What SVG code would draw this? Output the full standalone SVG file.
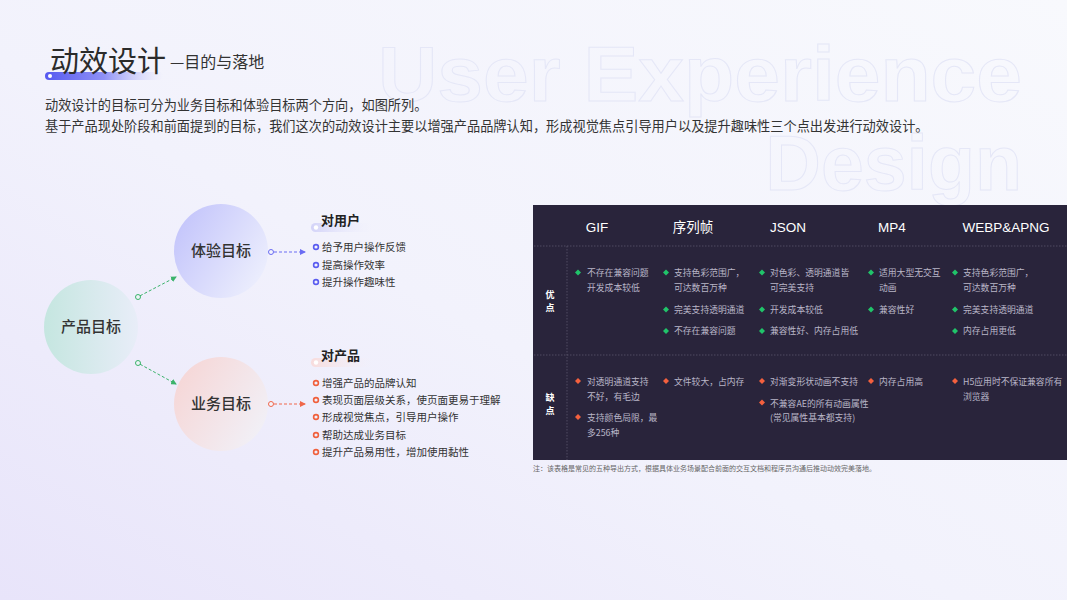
<svg xmlns="http://www.w3.org/2000/svg" width="1067" height="600" viewBox="0 0 1067 600">
<defs>
<linearGradient id="bg" x1="0" y1="1" x2="1" y2="0">
<stop offset="0" stop-color="#e8e4fa"/>
<stop offset="0.45" stop-color="#f2f2fc"/>
<stop offset="1" stop-color="#f8f9fd"/>
</linearGradient>
<linearGradient id="bar" x1="0" y1="0" x2="1" y2="0">
<stop offset="0" stop-color="#5659f0"/>
<stop offset="0.5" stop-color="#8f91f6"/>
<stop offset="1" stop-color="#c9cafb" stop-opacity="0"/>
</linearGradient>
<linearGradient id="pillBlue" x1="0" y1="0" x2="1" y2="0">
<stop offset="0" stop-color="#d3d3f8"/>
<stop offset="1" stop-color="#eeeefc" stop-opacity="0"/>
</linearGradient>
<linearGradient id="pillRed" x1="0" y1="0" x2="1" y2="0">
<stop offset="0" stop-color="#f8dcdc"/>
<stop offset="1" stop-color="#f6eef4" stop-opacity="0"/>
</linearGradient>
<linearGradient id="gTeal" x1="0" y1="0" x2="1" y2="0">
<stop offset="0" stop-color="#c5e6e0"/>
<stop offset="1" stop-color="#e8edf8"/>
</linearGradient>
<linearGradient id="gBlue" x1="0" y1="0.2" x2="1" y2="0.8">
<stop offset="0" stop-color="#c3c4fb"/>
<stop offset="1" stop-color="#eef0fd"/>
</linearGradient>
<linearGradient id="gRed" x1="0" y1="0.2" x2="1" y2="0.8">
<stop offset="0" stop-color="#f6d6d6"/>
<stop offset="1" stop-color="#f1f1f8"/>
</linearGradient>
<marker id="arrG" viewBox="0 0 6 6" refX="5" refY="3" markerWidth="6" markerHeight="6" markerUnits="userSpaceOnUse" orient="auto">
<path d="M0,0 L6,3 L0,6 z" fill="#3bb36b"/>
</marker>
<marker id="arrB" viewBox="0 0 6 6" refX="5" refY="3" markerWidth="6" markerHeight="6" markerUnits="userSpaceOnUse" orient="auto">
<path d="M0,0 L6,3 L0,6 z" fill="#6a6cf3"/>
</marker>
<marker id="arrR" viewBox="0 0 6 6" refX="5" refY="3" markerWidth="6" markerHeight="6" markerUnits="userSpaceOnUse" orient="auto">
<path d="M0,0 L6,3 L0,6 z" fill="#f0674a"/>
</marker>
</defs>
<style>
.cn{font-family:"Noto Sans CJK SC","Noto Sans",sans-serif}
.lat{font-family:"Liberation Sans","Noto Sans CJK SC",sans-serif}
.wm{font-family:"Liberation Sans",sans-serif;font-weight:bold;fill:none;stroke:#e5e7f7;stroke-width:1}
.para{font-size:13.2px;fill:#333}
.node{font-size:15px;font-weight:500;fill:#333;text-anchor:middle}
.head{font-size:13px;font-weight:bold;fill:#222}
.item{font-size:10.5px;fill:#333}
.th{font-size:13.5px;fill:#fff;text-anchor:middle}
.td{font-size:8.8px;fill:#b9b6c8}
.lab{font-size:9px;font-weight:bold;fill:#fff;text-anchor:middle}
.dg{fill:#20c46a}
.dr{fill:#f4603e}
</style>
<rect width="1067" height="600" fill="url(#bg)"/>

<!-- watermark -->
<text class="wm" x="378" y="101" font-size="77" textLength="644" lengthAdjust="spacingAndGlyphs">User Experience</text>
<text class="wm" x="1022" y="190" font-size="77" text-anchor="end">Design</text>

<!-- title -->
<rect x="45" y="72" width="118" height="8" rx="4" fill="url(#bar)"/>
<circle cx="50" cy="76" r="2" fill="#fff"/>
<text class="cn" x="50" y="72" font-size="29" fill="#2b2b2b">动效设计</text>
<text class="cn" x="170" y="68" font-size="16" fill="#333">—目的与落地</text>

<text class="cn para" x="45" y="110">动效设计的目标可分为业务目标和体验目标两个方向，如图所列。</text>
<text class="cn para" x="45" y="131">基于产品现处阶段和前面提到的目标，我们这次的动效设计主要以增强产品品牌认知，形成视觉焦点引导用户以及提升趣味性三个点出发进行动效设计。</text>

<!-- nodes -->
<g id="node-product">
<circle cx="91" cy="327" r="47" fill="url(#gTeal)"/>
<text class="cn node" x="91" y="332">产品目标</text>
</g>
<g id="node-experience">
<circle cx="221" cy="251" r="47" fill="url(#gBlue)"/>
<text class="cn node" x="221" y="256">体验目标</text>
</g>
<g id="node-business">
<circle cx="221" cy="404" r="47" fill="url(#gRed)"/>
<text class="cn node" x="221" y="409">业务目标</text>
</g>

<g id="connectors" fill="none" stroke-width="1" stroke-dasharray="3,2">
<circle cx="138" cy="297" r="2.5" stroke="#3bb36b" stroke-dasharray="none" fill="#eef3f8"/>
<line x1="140" y1="295.8" x2="176" y2="277" stroke="#3bb36b" marker-end="url(#arrG)"/>
<circle cx="138" cy="363" r="2.5" stroke="#3bb36b" stroke-dasharray="none" fill="#eef3f8"/>
<line x1="140" y1="364.2" x2="176" y2="384" stroke="#3bb36b" marker-end="url(#arrG)"/>
<circle cx="271" cy="252" r="2.5" stroke="#6a6cf3" stroke-dasharray="none" fill="#f4f5fd"/>
<line x1="274" y1="252" x2="305" y2="252" stroke="#6a6cf3" marker-end="url(#arrB)"/>
<circle cx="271" cy="404" r="2.5" stroke="#f0674a" stroke-dasharray="none" fill="#f4f5fd"/>
<line x1="274" y1="404" x2="305" y2="404" stroke="#f0674a" marker-end="url(#arrR)"/>
</g>

<!-- user list -->
<g id="list-user">
<rect x="311" y="223" width="62" height="9" rx="4.5" fill="url(#pillBlue)"/>
<circle cx="316" cy="227.5" r="2.2" fill="#fff"/>
<text class="cn head" x="321" y="225">对用户</text>
<g fill="none" stroke="#5a5cf0" stroke-width="1.6">
<circle cx="316" cy="247" r="2.4"/>
<circle cx="316" cy="265" r="2.4"/>
<circle cx="316" cy="282" r="2.4"/>
</g>
<text class="cn item" x="322" y="251">给予用户操作反馈</text>
<text class="cn item" x="322" y="269">提高操作效率</text>
<text class="cn item" x="322" y="286">提升操作趣味性</text>
</g>

<!-- product list -->
<g id="list-product">
<rect x="311" y="358" width="62" height="9" rx="4.5" fill="url(#pillRed)"/>
<circle cx="316" cy="362.5" r="2.2" fill="#fff"/>
<text class="cn head" x="321" y="360">对产品</text>
<g fill="none" stroke="#f0603c" stroke-width="1.6">
<circle cx="316" cy="383" r="2.4"/>
<circle cx="316" cy="400" r="2.4"/>
<circle cx="316" cy="417" r="2.4"/>
<circle cx="316" cy="435" r="2.4"/>
<circle cx="316" cy="452" r="2.4"/>
</g>
<text class="cn item" x="322" y="387">增强产品的品牌认知</text>
<text class="cn item" x="322" y="404">表现页面层级关系，使页面更易于理解</text>
<text class="cn item" x="322" y="421">形成视觉焦点，引导用户操作</text>
<text class="cn item" x="322" y="439">帮助达成业务目标</text>
<text class="cn item" x="322" y="456">提升产品易用性，增加使用黏性</text>
</g>

<!-- table -->
<g id="table">
<rect x="533" y="205" width="534" height="255" fill="#29243b"/>
<line x1="534" y1="246" x2="1067" y2="246" stroke="#5a566c" stroke-width="0.8" stroke-dasharray="1.5,1.5"/>
<line x1="534" y1="355" x2="1067" y2="355" stroke="#5a566c" stroke-width="0.8" stroke-dasharray="1.5,1.5"/>
<line x1="567" y1="246" x2="567" y2="460" stroke="#5a566c" stroke-width="0.8" stroke-dasharray="1.5,1.5"/>
<text class="lat th" x="597" y="232">GIF</text>
<text class="cn th" x="693" y="232">序列帧</text>
<text class="lat th" x="788" y="232">JSON</text>
<text class="lat th" x="892" y="232">MP4</text>
<text class="lat th" x="1006" y="232">WEBP&amp;APNG</text>

<text class="cn lab" x="550" y="298">优</text>
<text class="cn lab" x="550" y="311">点</text>
<text class="cn lab" x="550" y="401">缺</text>
<text class="cn lab" x="550" y="414">点</text>

<g class="dg">
<path d="M578,269.5 l3,3 l-3,3 l-3,-3z"/>
<path d="M666,269.5 l3,3 l-3,3 l-3,-3z"/>
<path d="M666,306.5 l3,3 l-3,3 l-3,-3z"/>
<path d="M666,328 l3,3 l-3,3 l-3,-3z"/>
<path d="M762,269.5 l3,3 l-3,3 l-3,-3z"/>
<path d="M762,306.5 l3,3 l-3,3 l-3,-3z"/>
<path d="M762,328 l3,3 l-3,3 l-3,-3z"/>
<path d="M871,269.5 l3,3 l-3,3 l-3,-3z"/>
<path d="M871,306.5 l3,3 l-3,3 l-3,-3z"/>
<path d="M955,269.5 l3,3 l-3,3 l-3,-3z"/>
<path d="M955,306.5 l3,3 l-3,3 l-3,-3z"/>
<path d="M955,328 l3,3 l-3,3 l-3,-3z"/>
</g>
<text class="cn td" x="587" y="276">不存在兼容问题</text>
<text class="cn td" x="587" y="291">开发成本较低</text>
<text class="cn td" x="674" y="276">支持色彩范围广，</text>
<text class="cn td" x="674" y="291">可达数百万种</text>
<text class="cn td" x="674" y="313">完美支持透明通道</text>
<text class="cn td" x="674" y="334">不存在兼容问题</text>
<text class="cn td" x="770" y="276">对色彩、透明通道皆</text>
<text class="cn td" x="770" y="291">可完美支持</text>
<text class="cn td" x="770" y="313">开发成本较低</text>
<text class="cn td" x="770" y="334">兼容性好、内存占用低</text>
<text class="cn td" x="879" y="276">适用大型无交互</text>
<text class="cn td" x="879" y="291">动画</text>
<text class="cn td" x="879" y="313">兼容性好</text>
<text class="cn td" x="963" y="276">支持色彩范围广，</text>
<text class="cn td" x="963" y="291">可达数百万种</text>
<text class="cn td" x="963" y="313">完美支持透明通道</text>
<text class="cn td" x="963" y="334">内存占用更低</text>

<g class="dr">
<path d="M578,378 l3,3 l-3,3 l-3,-3z"/>
<path d="M578,414 l3,3 l-3,3 l-3,-3z"/>
<path d="M666,378 l3,3 l-3,3 l-3,-3z"/>
<path d="M762,378 l3,3 l-3,3 l-3,-3z"/>
<path d="M762,399.5 l3,3 l-3,3 l-3,-3z"/>
<path d="M871,378 l3,3 l-3,3 l-3,-3z"/>
<path d="M955,378 l3,3 l-3,3 l-3,-3z"/>
</g>
<text class="cn td" x="587" y="385">对透明通道支持</text>
<text class="cn td" x="587" y="400">不好，有毛边</text>
<text class="cn td" x="587" y="421">支持颜色局限，最</text>
<text class="cn td" x="587" y="436">多256种</text>
<text class="cn td" x="674" y="385">文件较大，占内存</text>
<text class="cn td" x="770" y="385">对渐变形状动画不支持</text>
<text class="cn td" x="770" y="407">不兼容AE的所有动画属性</text>
<text class="cn td" x="770" y="421">(常见属性基本都支持)</text>
<text class="cn td" x="879" y="385">内存占用高</text>
<text class="cn td" x="963" y="385">H5应用时不保证兼容所有</text>
<text class="cn td" x="963" y="400">浏览器</text>
</g>

<text class="cn" x="533" y="471" font-size="7" fill="#666">注：该表格是常见的五种导出方式，根据具体业务场景配合前面的交互文档和程序员沟通后推动动效完美落地。</text>
</svg>
